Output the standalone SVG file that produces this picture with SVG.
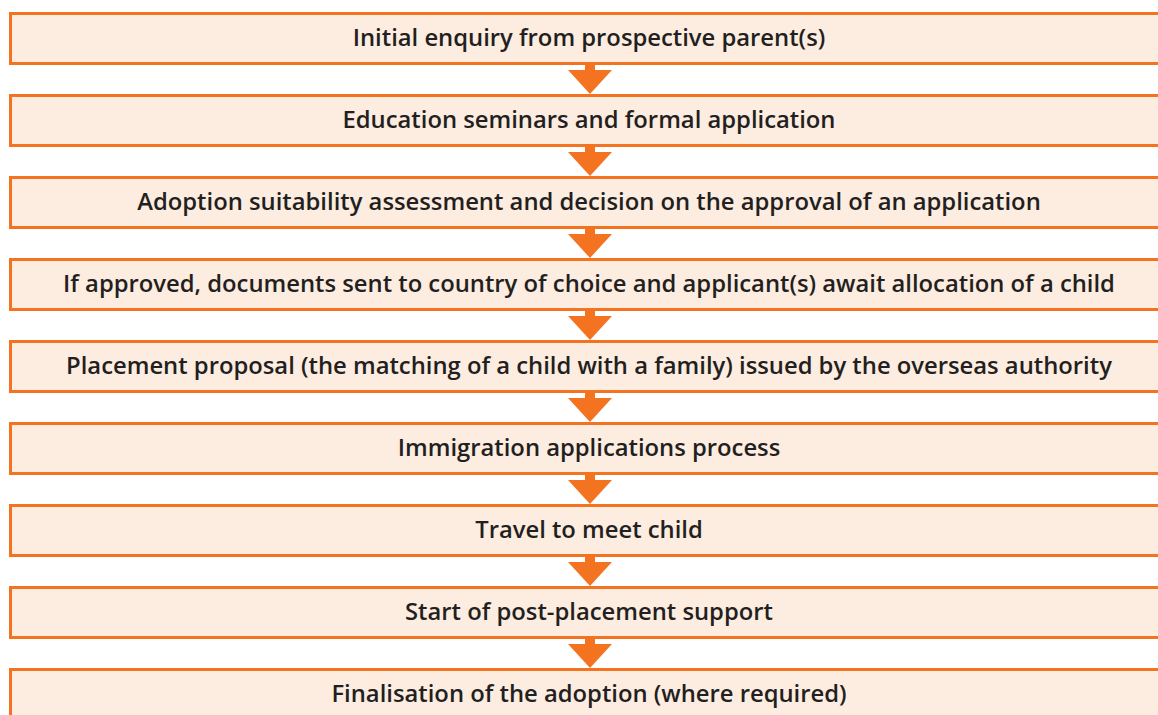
<svg xmlns="http://www.w3.org/2000/svg" width="1158" height="715" viewBox="0 0 1158 715">
<style>
.box{fill:#fdece0;stroke:#f47321;stroke-width:3}
.lbl{font-family:"Open Sans","Noto Sans",sans-serif;font-weight:600;font-size:23.8px;fill:#231f20;text-anchor:middle}
.arr{fill:#f47321}
</style>
<defs>
<g id="arrow"><rect class="arr" x="585" y="64" width="10" height="8"/><polygon class="arr" points="568,70 612,70 590,94"/></g>
</defs>
<rect width="1158" height="715" fill="#ffffff"/>
<g id="connectors">
<use href="#arrow" y="0"/>
<use href="#arrow" y="82"/>
<use href="#arrow" y="164"/>
<use href="#arrow" y="246"/>
<use href="#arrow" y="328"/>
<use href="#arrow" y="410"/>
<use href="#arrow" y="492"/>
<use href="#arrow" y="574"/>
</g>
<g id="n1"><rect class="box" x="10.5" y="13.5" width="1160" height="50"/><text class="lbl" x="589" y="46">Initial enquiry from prospective parent(s)</text></g>
<g id="n2"><rect class="box" x="10.5" y="95.5" width="1160" height="50"/><text class="lbl" x="589" y="128">Education seminars and formal application</text></g>
<g id="n3"><rect class="box" x="10.5" y="177.5" width="1160" height="50"/><text class="lbl" x="589" y="210">Adoption suitability assessment and decision on the approval of an application</text></g>
<g id="n4"><rect class="box" x="10.5" y="259.5" width="1160" height="50"/><text class="lbl" x="589" y="292">If approved, documents sent to country of choice and applicant(s) await allocation of a child</text></g>
<g id="n5"><rect class="box" x="10.5" y="341.5" width="1160" height="50"/><text class="lbl" x="589" y="374">Placement proposal (the matching of a child with a family) issued by the overseas authority</text></g>
<g id="n6"><rect class="box" x="10.5" y="423.5" width="1160" height="50"/><text class="lbl" x="589" y="456">Immigration applications process</text></g>
<g id="n7"><rect class="box" x="10.5" y="505.5" width="1160" height="50"/><text class="lbl" x="589" y="538">Travel to meet child</text></g>
<g id="n8"><rect class="box" x="10.5" y="587.5" width="1160" height="50"/><text class="lbl" x="589" y="620">Start of post-placement support</text></g>
<g id="n9"><rect class="box" x="10.5" y="669.5" width="1160" height="50"/><text class="lbl" x="589" y="702">Finalisation of the adoption (where required)</text></g>
</svg>
